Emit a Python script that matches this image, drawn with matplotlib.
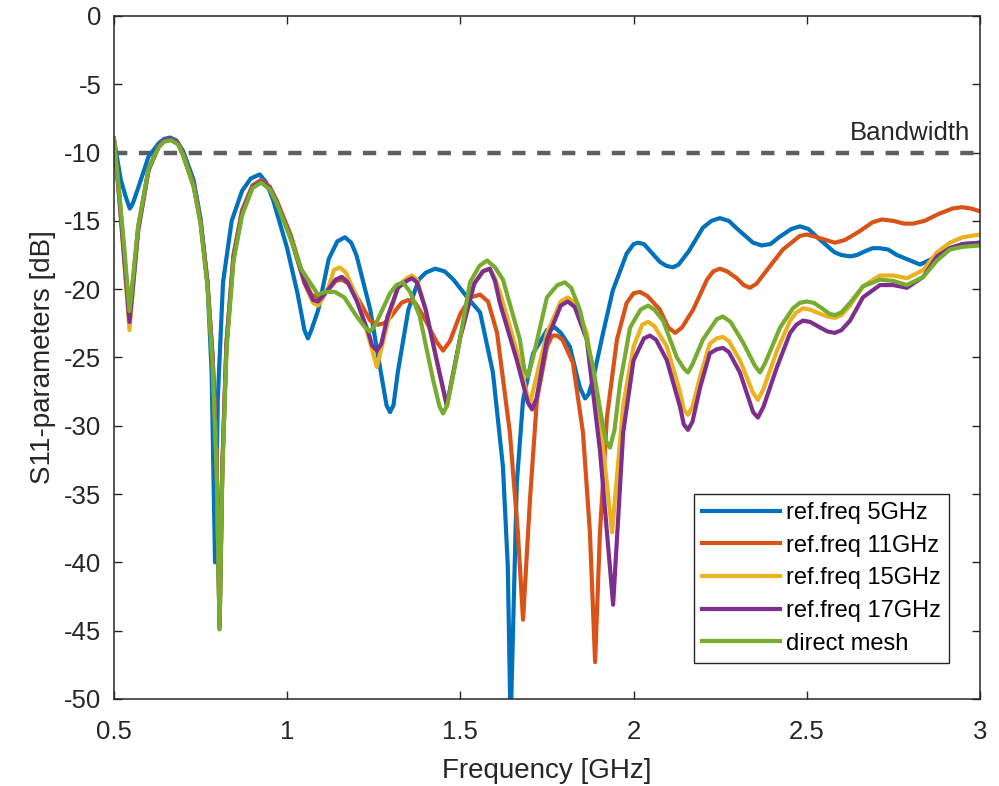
import matplotlib
matplotlib.use('Agg')
import matplotlib.pyplot as plt

# values (frequency in GHz, S11 in dB)
f_5ghz = [0.50, 0.52, 0.535, 0.546, 0.555, 0.57, 0.60, 0.63, 0.645, 0.662, 0.68, 0.70, 0.73, 0.75, 0.77,
          0.782, 0.792, 0.80, 0.815, 0.84, 0.87, 0.895, 0.921, 0.94, 0.96, 1.00, 1.03, 1.05, 1.06, 1.07,
          1.09, 1.12, 1.145, 1.167, 1.185, 1.20, 1.24, 1.27, 1.287, 1.297, 1.307, 1.32, 1.35, 1.38, 1.40,
          1.427, 1.455, 1.48, 1.52, 1.557, 1.594, 1.623, 1.637, 1.645, 1.663, 1.681, 1.71, 1.75, 1.773,
          1.79, 1.816, 1.845, 1.86, 1.87, 1.883, 1.912, 1.94, 1.98, 2.0, 2.013, 2.03, 2.076, 2.095, 2.114,
          2.13, 2.16, 2.20, 2.225, 2.249, 2.275, 2.30, 2.345, 2.37, 2.395, 2.42, 2.455, 2.48, 2.505, 2.53,
          2.58, 2.60, 2.625, 2.645, 2.67, 2.69, 2.71, 2.735, 2.76, 2.827, 2.876, 2.913, 2.95, 3.0]
s_5ghz = [-9.0, -12.0, -13.3, -14.1, -13.7, -12.6, -10.3, -9.3, -9.0, -8.9, -9.1, -9.9, -12.0, -14.8, -19.5,
          -26, -40, -28, -19.5, -15, -12.8, -11.9, -11.6, -12.2, -13.5, -17, -20.3, -23.0, -23.6, -23.0,
          -21.5, -17.8, -16.5, -16.2, -16.6, -17.5, -21.5, -26, -28.5, -29, -28.5, -26, -21.5, -19.3, -18.8,
          -18.5, -18.7, -19.3, -20.6, -21.7, -26.1, -33, -40.3, -52, -34.2, -28.1, -24.7, -23, -22.8,
          -23.2, -24.2, -27.2, -28, -27.7, -26.6, -23.2, -20.1, -17.4, -16.7, -16.6, -16.7, -18, -18.3, -18.4,
          -18.2, -17.2, -15.5, -15.0, -14.8, -15.0, -15.6, -16.6, -16.8, -16.7, -16.2, -15.6, -15.4, -15.6, -16.2,
          -17.3, -17.5, -17.6, -17.5, -17.2, -17.0, -17.0, -17.1, -17.5, -18.2, -17.6, -17.0, -16.7, -16.6]

f_11ghz = [0.50, 0.515, 0.53, 0.545, 0.555, 0.57, 0.60, 0.63, 0.645, 0.665, 0.685, 0.70, 0.73, 0.75, 0.77,
           0.785, 0.797, 0.805, 0.813, 0.825, 0.845, 0.87, 0.90, 0.925, 0.95, 0.97, 1.01, 1.05, 1.07, 1.089,
           1.105, 1.12, 1.14, 1.158, 1.178, 1.20, 1.24, 1.262, 1.28, 1.30, 1.33, 1.349, 1.37, 1.40, 1.43,
           1.45, 1.47, 1.50, 1.53, 1.557, 1.58, 1.606, 1.643, 1.666, 1.681, 1.701, 1.721, 1.75, 1.765, 1.779,
           1.795, 1.825, 1.854, 1.874, 1.889, 1.903, 1.923, 1.952, 1.98, 2.0, 2.018, 2.04, 2.076, 2.10, 2.12,
           2.14, 2.172, 2.212, 2.23, 2.249, 2.27, 2.298, 2.318, 2.336, 2.355, 2.385, 2.431, 2.48, 2.50, 2.53,
           2.555, 2.581, 2.61, 2.65, 2.69, 2.717, 2.75, 2.78, 2.807, 2.84, 2.88, 2.92, 2.948, 2.975, 3.0]
s_11ghz = [-9.0, -13, -17.5, -22.0, -19.5, -15.5, -11.2, -9.5, -9.1, -9.0, -9.3, -10.1, -12.3, -15, -19.5,
           -25, -33, -44.8, -33, -24, -17.5, -14.2, -12.4, -12.0, -12.5, -13.5, -16, -19.3, -20.4, -20.6,
           -20.4, -20.0, -19.4, -19.3, -19.6, -20.5, -22.3, -22.6, -22.5, -22, -21.0, -20.8, -21.0, -22.3, -23.8,
           -24.5, -23.8, -21.8, -20.6, -20.4, -20.9, -23.2, -30.5, -37.8, -44.2, -35.4, -28.1, -24.2, -23.4, -23.4,
           -23.7, -25.4, -30.5, -37.8, -47.3, -37.8, -29.4, -23.7, -21, -20.3, -20.2, -20.5, -21.5, -22.8, -23.2,
           -22.8, -21.5, -19.3, -18.7, -18.5, -18.7, -19.2, -19.7, -19.9, -19.6, -18.6, -17.1, -16.1, -16.0, -16.2,
           -16.4, -16.6, -16.4, -15.8, -15.1, -14.9, -15.0, -15.2, -15.2, -15.0, -14.5, -14.1, -14.0, -14.1, -14.3]

f_15ghz = [0.50, 0.515, 0.53, 0.545, 0.555, 0.57, 0.60, 0.63, 0.645, 0.665, 0.685, 0.70, 0.73, 0.75, 0.77,
           0.785, 0.797, 0.805, 0.813, 0.825, 0.845, 0.87, 0.90, 0.925, 0.95, 0.97, 1.01, 1.05, 1.075, 1.089,
           1.10, 1.12, 1.135, 1.152, 1.17, 1.20, 1.235, 1.259, 1.29, 1.32, 1.345, 1.36, 1.375, 1.40, 1.43,
           1.461, 1.50, 1.54, 1.565, 1.585, 1.60, 1.614, 1.663, 1.70, 1.75, 1.79, 1.81, 1.83, 1.865, 1.903,
           1.938, 1.97, 2.0, 2.025, 2.042, 2.06, 2.096, 2.134, 2.145, 2.157, 2.17, 2.192, 2.22, 2.24, 2.258,
           2.275, 2.307, 2.345, 2.359, 2.375, 2.414, 2.452, 2.47, 2.489, 2.51, 2.538, 2.56, 2.581, 2.60, 2.625,
           2.662, 2.711, 2.75, 2.789, 2.836, 2.876, 2.913, 2.95, 3.0]
s_15ghz = [-9.0, -13.2, -18, -23.0, -20, -15.8, -11.3, -9.5, -9.1, -9.0, -9.3, -10.2, -12.4, -15, -19.5,
           -25, -33, -44.9, -33, -24, -17.7, -14.4, -12.5, -12.1, -12.6, -13.6, -16.2, -19.6, -21.0, -21.2,
           -20.8, -19.8, -18.6, -18.4, -18.8, -20.5, -23.5, -25.7, -22.5, -19.8, -19.2, -19.0, -19.3, -21.5, -25,
           -28.6, -23.5, -19.6, -18.7, -18.5, -19.2, -20.2, -24.5, -28.5, -23.2, -20.9, -20.6, -21.0, -23.2, -29.5,
           -37.8, -28.5, -24.2, -22.6, -22.4, -22.7, -24.2, -27.5, -28.8, -29.2, -28.6, -26.4, -24.0, -23.6, -23.5,
           -23.8, -25.2, -27.6, -28.1, -27.3, -24.5, -22.3, -21.7, -21.4, -21.5, -21.8, -22.0, -22.1, -21.9, -21.2,
           -19.8, -19.0, -19.0, -19.2, -18.6, -17.3, -16.6, -16.2, -16.0]

f_17ghz = [0.50, 0.515, 0.53, 0.545, 0.555, 0.57, 0.60, 0.63, 0.645, 0.665, 0.685, 0.70, 0.73, 0.75, 0.77,
           0.785, 0.797, 0.805, 0.813, 0.825, 0.845, 0.87, 0.90, 0.925, 0.95, 0.97, 1.01, 1.05, 1.075, 1.089,
           1.10, 1.12, 1.14, 1.158, 1.175, 1.20, 1.235, 1.245, 1.259, 1.272, 1.29, 1.32, 1.345, 1.36, 1.375,
           1.40, 1.43, 1.461, 1.50, 1.54, 1.565, 1.585, 1.60, 1.614, 1.663, 1.695, 1.707, 1.72, 1.75, 1.79,
           1.81, 1.83, 1.865, 1.903, 1.941, 1.97, 2.0, 2.03, 2.047, 2.065, 2.096, 2.134, 2.145, 2.157, 2.17,
           2.192, 2.22, 2.24, 2.258, 2.275, 2.307, 2.345, 2.359, 2.375, 2.414, 2.452, 2.47, 2.489, 2.51, 2.538,
           2.56, 2.581, 2.60, 2.625, 2.662, 2.711, 2.75, 2.789, 2.836, 2.876, 2.913, 2.95, 3.0]
s_17ghz = [-9.0, -13.1, -17.8, -22.4, -19.8, -15.7, -11.3, -9.5, -9.1, -9.0, -9.3, -10.2, -12.4, -15, -19.5,
           -25, -33, -44.7, -33, -24, -17.7, -14.4, -12.5, -12.1, -12.6, -13.6, -16.2, -19.5, -20.8, -20.9,
           -20.6, -20.0, -19.3, -19.1, -19.5, -20.8, -23.2, -24.1, -24.5, -24.0, -22, -19.9, -19.4, -19.2, -19.5,
           -21.5, -25, -28.5, -23.5, -19.6, -18.7, -18.5, -19.4, -21.0, -25.2, -28.3, -28.8, -28.0, -23.7, -21.2,
           -20.9, -21.3, -23.7, -31.8, -43.1, -30.5, -25.2, -23.6, -23.4, -23.7, -25.2, -28.6, -29.9, -30.3, -29.7,
           -27.2, -24.7, -24.4, -24.3, -24.6, -26.1, -29.0, -29.4, -28.6, -25.7, -23.2, -22.6, -22.3, -22.4, -22.8,
           -23.1, -23.2, -23.0, -22.3, -20.6, -19.7, -19.7, -19.9, -19.1, -17.6, -17.0, -16.7, -16.6]

f_direct = [0.50, 0.515, 0.53, 0.545, 0.555, 0.57, 0.60, 0.63, 0.645, 0.665, 0.685, 0.70, 0.73, 0.75, 0.77,
            0.785, 0.797, 0.805, 0.813, 0.825, 0.845, 0.87, 0.90, 0.925, 0.95, 0.97, 1.01, 1.04, 1.089, 1.11,
            1.138, 1.165, 1.201, 1.225, 1.239, 1.255, 1.297, 1.315, 1.334, 1.355, 1.383, 1.421, 1.44, 1.45,
            1.462, 1.49, 1.528, 1.555, 1.577, 1.60, 1.623, 1.672, 1.685, 1.695, 1.71, 1.75, 1.78, 1.802, 1.82,
            1.845, 1.883, 1.912, 1.922, 1.932, 1.945, 1.961, 1.99, 2.02, 2.042, 2.06, 2.085, 2.125, 2.145,
            2.157, 2.17, 2.2, 2.24, 2.258, 2.28, 2.316, 2.35, 2.365, 2.38, 2.423, 2.46, 2.48, 2.5, 2.52, 2.544,
            2.565, 2.581, 2.60, 2.625, 2.662, 2.711, 2.75, 2.789, 2.836, 2.876, 2.913, 2.95, 3.0]
s_direct = [-9.0, -12.8, -17, -21.6, -19.2, -15.4, -11.2, -9.6, -9.2, -9.1, -9.4, -10.2, -12.5, -15.2, -19.8,
            -25.5, -33.5, -44.9, -33.5, -24.5, -18, -14.6, -12.6, -12.2, -12.7, -13.7, -16.3, -18.5, -20.4, -20.2,
            -20.2, -20.6, -22, -22.8, -23.1, -22.6, -20.3, -19.7, -19.5, -20.2, -22, -26.6, -28.6, -29.1,
            -28.5, -24.9, -19.5, -18.3, -17.9, -18.4, -19.3, -23.7, -25.9, -26.4, -25.0, -20.6, -19.7, -19.5, -19.9,
            -21.5, -25.7, -30.1, -31.2, -31.6, -30.3, -26.9, -22.8, -21.5, -21.2, -21.5, -22.3, -25, -25.8,
            -26.1, -25.5, -23.7, -22.2, -22, -22.4, -23.9, -25.6, -26.1, -25.4, -22.8, -21.4, -21.0, -20.9, -21.0, -21.4,
            -21.8, -21.9, -21.7, -21, -19.8, -19.3, -19.4, -19.7, -19.1, -17.9, -17.1, -16.9, -16.8]

labels = ['ref.freq 5GHz', 'ref.freq 11GHz', 'ref.freq 15GHz', 'ref.freq 17GHz', 'direct mesh']
bandwidth_level = -10

plt.rcParams['font.family'] = ['Liberation Sans', 'DejaVu Sans']
plt.rcParams['axes.unicode_minus'] = False

fig = plt.figure(figsize=(9.99, 7.86), dpi=100)
ax = fig.add_axes([0.114, 0.1107, 0.867, 0.869])

# -10 dB bandwidth criterion
ax.axhline(bandwidth_level, color='#5f5f5f', linestyle=(0, (3, 2.6)), linewidth=3.2)
ax.text(2.971, -9.1, 'Bandwidth', ha='right', va='baseline', color='#262626', fontsize=18.5)

colors = ['#0072BD', '#D95319', '#EDB120', '#7E2F8E', '#77AC30']
series = [(f_5ghz, s_5ghz), (f_11ghz, s_11ghz), (f_15ghz, s_15ghz), (f_17ghz, s_17ghz), (f_direct, s_direct)]
for (f, s), c, lab in zip(series, colors, labels):
    ax.plot(f, s, color=c, linewidth=3, label=lab, solid_joinstyle='round')

ax.set_xlim(0.5, 3)
ax.set_ylim(-50, 0)
ax.set_xticks([0.5, 1, 1.5, 2, 2.5, 3])
ax.set_xticklabels(['0.5', '1', '1.5', '2', '2.5', '3'])
ax.set_yticks(range(-50, 1, 5))
ax.tick_params(direction='in', top=True, right=True, length=6, width=1, colors='#262626',
               labelcolor='#262626', labelsize=18.5)
ax.tick_params(axis='x', pad=15)
ax.tick_params(axis='y', pad=9)
for sp in ax.spines.values():
    sp.set_color('#262626')
    sp.set_linewidth(1.1)

ax.set_xlabel('Frequency [GHz]', color='#262626', fontsize=20, labelpad=10)
ax.set_ylabel('S11-parameters [dB]', color='#262626', fontsize=20, labelpad=6)

leg = ax.legend(loc='lower right', bbox_to_anchor=(0.964, 0.053), borderaxespad=0, fontsize=17,
                handlelength=3.3, handletextpad=0.25, labelspacing=0.45, borderpad=0.35,
                fancybox=False, framealpha=1, edgecolor='#262626')
leg.get_frame().set_linewidth(1.0)

plt.savefig('out.png', dpi=100)
